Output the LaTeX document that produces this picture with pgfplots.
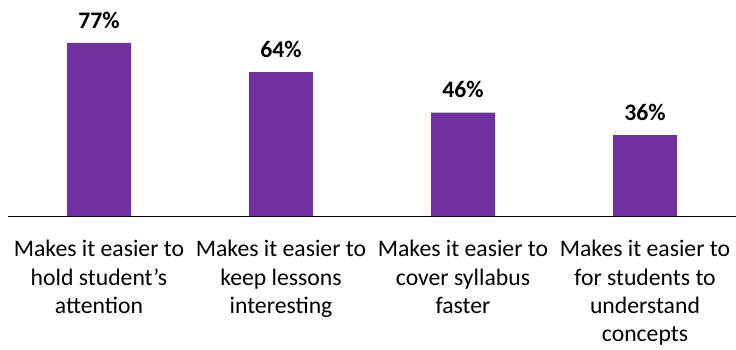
\documentclass[border=0pt]{standalone}
\usepackage{pgfplots}
\pgfplotsset{compat=1.18}
\usepackage{fontspec}
\setmainfont{Carlito}
\definecolor{barpurple}{HTML}{7030A0}
\begin{document}
\begin{tikzpicture}[x=1pt,y=1pt]
\path[use as bounding box] (0,0) rectangle (736,349);
\begin{axis}[
  at={(8pt,133pt)}, anchor=south west,
  scale only axis, width=728pt, height=216pt,
  xmin=-0.5, xmax=3.5, ymin=0, ymax=96.1,
  axis y line=none,
  axis x line*=bottom,
  axis line style={black, line width=1pt, -},
  xtick=data,
  xticklabels={{Makes it easier to\\hold student’s\\attention},
               {Makes it easier to\\keep lessons\\interesting},
               {Makes it easier to\\cover syllabus\\faster},
               {Makes it easier to\\for students to\\understand\\concepts}},
  xticklabel style={align=center, font=\fontsize{23.7}{28.2}\selectfont, text=black, yshift=-21pt},
  major tick length=0pt,
  ybar, bar width=64pt,
  /pgf/number format/assume math mode=true,
  nodes near coords={\pgfmathprintnumber{\pgfplotspointmeta}\%},
  nodes near coords style={font=\bfseries\fontsize{23.7}{28}\selectfont, text=black, yshift=11pt},
  point meta=explicit,
]
\addplot[fill=barpurple, draw=none] coordinates {
  (0,77) [77]
  (1,64) [64]
  (2,46) [46]
  (3,36) [36]
};
\end{axis}
\end{tikzpicture}
\end{document}
